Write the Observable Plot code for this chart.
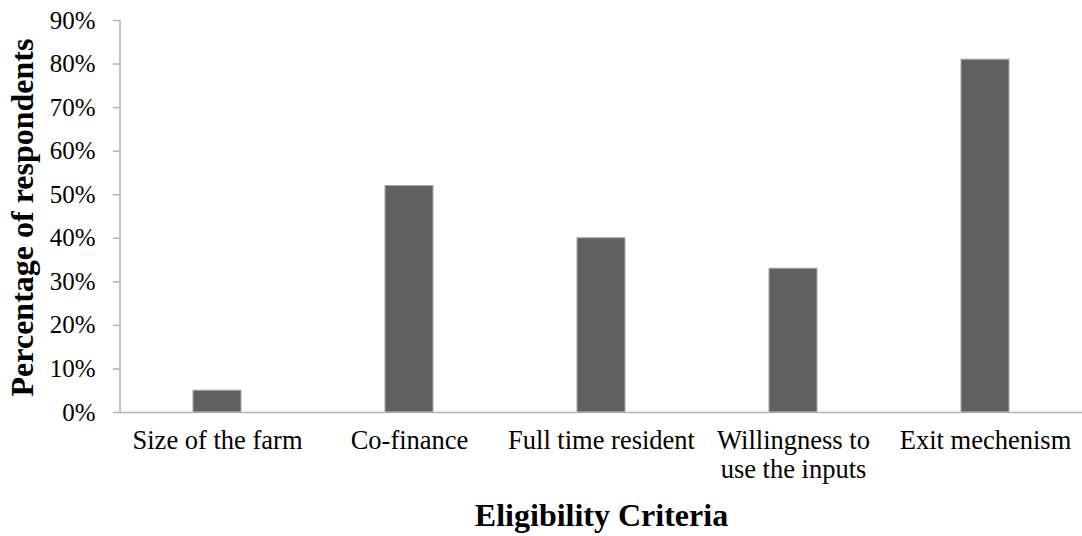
<!DOCTYPE html>
<html>
<head>
<meta charset="utf-8">
<script src="https://cdn.jsdelivr.net/npm/d3@7"></script>
<script src="https://cdn.jsdelivr.net/npm/@observablehq/plot@0.6"></script>
<style>
  html, body { margin: 0; padding: 0; background: #fff; }
  #chart svg { font-family: "Liberation Serif", "Times New Roman", serif; }
</style>
</head>
<body>
<div id="chart"></div>
<script>
const categories = ["Size of the farm", "Co-finance", "Full time resident", "Willingness to\nuse the inputs", "Exit mechenism"];
const values = [0.05, 0.52, 0.40, 0.33, 0.81];
const yTicks = [0, 0.1, 0.2, 0.3, 0.4, 0.5, 0.6, 0.7, 0.8, 0.9];
const xTitle = "Eligibility Criteria";
const yTitle = "Percentage of respondents";

const data = categories.map((c, i) => ({category: c, value: values[i]}));

const chart = Plot.plot({
  width: 1082,
  height: 536,
  marginLeft: 120,
  marginRight: 0,
  marginTop: 20,
  marginBottom: 124,
  style: {fontFamily: "Liberation Serif, Times New Roman, serif", fontSize: "26px", color: "#000", background: "#fff"},
  x: {domain: categories, paddingInner: 0.75, paddingOuter: 0.375, label: null},
  y: {domain: [0, 0.9], label: null},
  marks: [
    Plot.barY(data, {x: "category", y: "value", fill: "#606060", stroke: "#a6a6a6", strokeWidth: 1}),
    Plot.ruleY([0], {stroke: "#b3b3b3", strokeWidth: 1.5}),
    Plot.axisY({ticks: yTicks, tickFormat: d => Math.round(d * 100) + "%", tickSize: 7, tickPadding: 18,
      stroke: "#b3b3b3", strokeWidth: 1.5, fill: "#000", fontSize: 25, label: null}),
    Plot.axisX({tickSize: 0, tickPadding: 16, fill: "#000", fontSize: 26.5, lineHeight: 1.1, label: null}),
    Plot.text([yTitle], {frameAnchor: "left", textAnchor: "middle", lineAnchor: "middle", rotate: -90, dx: -98, dy: 1, fontSize: 32, fontWeight: "bold", fill: "#000"}),
    Plot.text([xTitle], {frameAnchor: "bottom", lineAnchor: "bottom", dy: 113, fontSize: 32, fontWeight: "bold", fill: "#000"})
  ]
});

// left axis line drawn along the y scale range
const y = chart.scale("y");
d3.select(chart).append("line")
  .attr("x1", 120).attr("x2", 120)
  .attr("y1", y.range[0]).attr("y2", y.range[1])
  .attr("stroke", "#b3b3b3").attr("stroke-width", 1.5);

document.getElementById("chart").appendChild(chart);
</script>
</body>
</html>
